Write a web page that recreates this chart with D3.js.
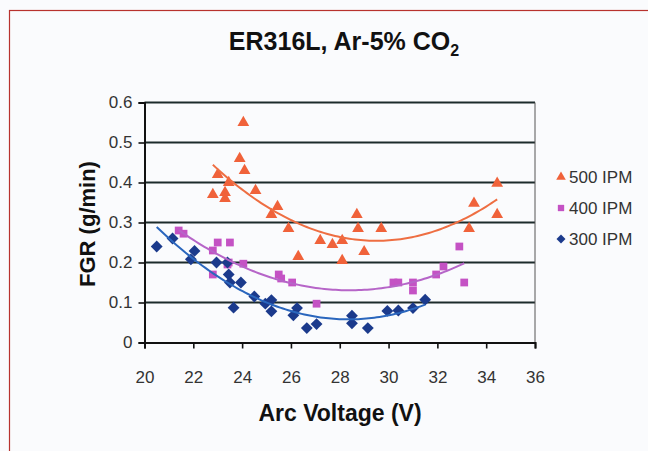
<!DOCTYPE html>
<html><head><meta charset="utf-8">
<script src="https://cdn.jsdelivr.net/npm/d3@7"></script>
<style>body{margin:0;background:#fff}svg{display:block}</style></head>
<body><svg id="c" width="648" height="451"></svg>
<script>
const xTicks = [20, 22, 24, 26, 28, 30, 32, 34, 36];
const yTicks = [0, 0.1, 0.2, 0.3, 0.4, 0.5, 0.6];
const seriesNames = ["500 IPM", "400 IPM", "300 IPM"];

const ipm500V = [22.8, 23.3, 23.3, 23.0, 23.45, 23.9, 24.1, 24.05, 24.55, 25.45, 25.2, 25.9, 26.3, 27.2, 27.7, 28.1, 28.1, 28.7, 28.75, 29.0, 29.7, 33.3, 33.5, 34.45, 34.45];
const ipm500F = [0.37, 0.36, 0.375, 0.42, 0.40, 0.46, 0.43, 0.55, 0.38, 0.34, 0.32, 0.285, 0.215, 0.255, 0.245, 0.255, 0.205, 0.32, 0.285, 0.227, 0.285, 0.285, 0.348, 0.398, 0.32];

const ipm400V = [21.4, 21.6, 23.0, 23.5, 22.8, 23.4, 23.45, 24.05, 22.8, 25.5, 25.6, 26.05, 27.05, 30.2, 30.4, 31.0, 31.0, 31.95, 32.25, 32.9, 33.1];
const ipm400F = [0.28, 0.272, 0.25, 0.25, 0.23, 0.195, 0.2, 0.197, 0.17, 0.17, 0.16, 0.15, 0.097, 0.15, 0.15, 0.15, 0.13, 0.17, 0.19, 0.24, 0.15];

const ipm300V = [20.5, 21.15, 21.9, 22.05, 22.95, 23.4, 23.45, 23.5, 23.95, 23.65, 24.5, 24.95, 25.2, 25.2, 26.1, 26.25, 26.65, 27.05, 28.5, 28.5, 29.15, 29.95, 30.4, 31.0, 31.5];
const ipm300F = [0.24, 0.26, 0.208, 0.229, 0.2, 0.2, 0.17, 0.15, 0.15, 0.087, 0.115, 0.097, 0.106, 0.078, 0.068, 0.086, 0.036, 0.046, 0.067, 0.048, 0.036, 0.079, 0.08, 0.086, 0.107];

const svg = d3.select("#c");
const font = "'Liberation Sans', Arial, sans-serif";

svg.append("rect").attr("width",648).attr("height",451).attr("fill","#fafbfd");
svg.append("rect").attr("x",9.5).attr("y",10.5).attr("width",660).attr("height",460)
  .attr("fill","none").attr("stroke","#b8322e").attr("stroke-width",1.2);

const x = d3.scaleLinear().domain([20,36]).range([144.5,535]);
const y = d3.scaleLinear().domain([0,0.6]).range([342.5,102.5]);

// gridlines
svg.append("g").selectAll("line").data(yTicks.filter(d=>d>0)).join("line")
  .attr("x1",x(20)).attr("x2",x(36)).attr("y1",d=>y(d)).attr("y2",d=>y(d))
  .attr("stroke","#1c2b2b").attr("stroke-width",2);
svg.append("line").attr("x1",x(36)).attr("x2",x(36)).attr("y1",y(0.6)).attr("y2",y(0))
  .attr("stroke","#555").attr("stroke-width",1);

const xAxis = svg.append("g").attr("transform",`translate(0,${y(0)})`)
  .call(d3.axisBottom(x).tickValues(xTicks).tickFormat(d3.format("d")).tickSize(6).tickPadding(22));
const yAxis = svg.append("g").attr("transform",`translate(${x(20)},0)`)
  .call(d3.axisLeft(y).tickValues(yTicks).tickFormat(d=>d===0?"0":d3.format(".1f")(d)).tickSize(6).tickPadding(6));
[xAxis,yAxis].forEach(a=>{
  a.select(".domain").attr("stroke","#111").attr("stroke-width",2);
  a.selectAll(".tick line").attr("stroke","#111").attr("stroke-width",1.6);
  a.selectAll("text").attr("font-family",font).attr("font-size",17).attr("fill","#333");
});

// title
const t = svg.append("text").attr("x",344).attr("y",50).attr("text-anchor","middle")
  .attr("font-family",font).attr("font-weight","bold").attr("font-size",25).attr("fill","#111");
t.append("tspan").text("ER316L, Ar-5% CO");
t.append("tspan").text("2").attr("font-size",16).attr("dy",6);

svg.append("text").attr("x",340).attr("y",421).attr("text-anchor","middle")
  .attr("font-family",font).attr("font-weight","bold").attr("font-size",23).attr("fill","#111")
  .text("Arc Voltage (V)");
svg.append("text").attr("transform",`translate(95,224) rotate(-90)`).attr("text-anchor","middle")
  .attr("font-family",font).attr("font-weight","bold").attr("font-size",22).attr("fill","#111")
  .text("FGR (g/min)");

function quadFit(xs, ys){
  let n=xs.length, s=[0,0,0,0,0], t=[0,0,0];
  for(let i=0;i<n;i++){const a=xs[i],b=ys[i];let p=1;for(let k=0;k<5;k++){s[k]+=p;if(k<3)t[k]+=p*b;p*=a;}}
  const M=[[s[0],s[1],s[2],t[0]],[s[1],s[2],s[3],t[1]],[s[2],s[3],s[4],t[2]]];
  for(let i=0;i<3;i++){for(let j=i+1;j<3;j++){const f=M[j][i]/M[i][i];for(let k=i;k<4;k++)M[j][k]-=f*M[i][k];}}
  const c=[0,0,0];
  for(let i=2;i>=0;i--){let v=M[i][3];for(let k=i+1;k<3;k++)v-=M[i][k]*c[k];c[i]=v/M[i][i];}
  return v=>c[0]+c[1]*v+c[2]*v*v;
}

const diamond = {draw(ctx,size){const r=Math.sqrt(size/2);ctx.moveTo(0,-r);ctx.lineTo(r,0);ctx.lineTo(0,r);ctx.lineTo(-r,0);ctx.closePath();}};

const series = [
  {name:seriesNames[0], xs:ipm500V, ys:ipm500F, color:"#f0623a", line:"#ee6e42", sym:d3.symbolTriangle, size:60},
  {name:seriesNames[1], xs:ipm400V, ys:ipm400F, color:"#c452c4", line:"#b665c8", sym:d3.symbolSquare, size:60},
  {name:seriesNames[2], xs:ipm300V, ys:ipm300F, color:"#1b3a8c", line:"#2a66bd", sym:diamond, size:70},
];

const line = d3.line().x(d=>x(d[0])).y(d=>y(d[1]));
series.forEach(s=>{
  svg.append("g").selectAll("path").data(s.xs.map((v,i)=>[v,s.ys[i]])).join("path")
    .attr("transform",d=>`translate(${x(d[0])},${y(d[1])})`)
    .attr("d",d3.symbol(s.sym,s.size)).attr("fill",s.color);
});
series.forEach(s=>{
  const f = quadFit(s.xs,s.ys);
  const [lo,hi]=d3.extent(s.xs);
  const pts = d3.range(0,101).map(i=>{const v=lo+(hi-lo)*i/100;return [v,f(v)];});
  svg.append("path").datum(pts).attr("d",line).attr("fill","none")
    .attr("stroke",s.line).attr("stroke-width",2);
});

// legend
const leg = svg.append("g");
series.forEach((s,i)=>{
  const yy = 177 + i*31;
  leg.append("path").attr("transform",`translate(561,${yy})`).attr("d",d3.symbol(s.sym,40)).attr("fill",s.color);
  leg.append("text").attr("x",569).attr("y",yy+6).attr("font-family",font).attr("font-size",17)
    .attr("fill","#333").text(s.name);
});
</script></body></html>
